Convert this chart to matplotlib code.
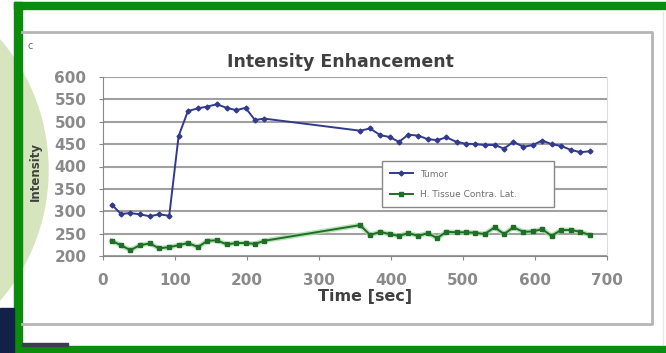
import matplotlib.pyplot as plt
import matplotlib.patches as mpatches

# time points (sec)
t_early = [12, 25, 38, 51, 65, 78, 92, 105, 118, 132, 145, 158, 172, 185, 198, 211, 224]
t_late = [357, 371, 385, 398, 411, 424, 438, 451, 464, 477, 491, 504, 517,
          530, 544, 557, 570, 584, 597, 610, 623, 636, 650, 663, 676]

# Tumor intensity
tumor_early = [315, 294, 296, 293, 289, 293, 290, 468, 524, 530, 534, 539, 531,
               526, 531, 504, 507]
tumor_late = [480, 485, 470, 466, 455, 471, 469, 461, 459, 465, 455, 451, 450,
              448, 448, 440, 455, 444, 448, 458, 450, 446, 437, 432, 434]

# healthy tissue, contralateral side
tissue_early = [234, 224, 213, 224, 228, 217, 220, 224, 229, 220, 234, 235, 226,
                229, 229, 227, 234]
tissue_late = [269, 247, 254, 249, 245, 251, 245, 251, 240, 254, 253, 253, 252,
               249, 264, 249, 264, 254, 255, 260, 245, 258, 258, 254, 247]

t = t_early + t_late
tumor = tumor_early + tumor_late
tissue = tissue_early + tissue_late

W, H = 666, 353
fig = plt.figure(figsize=(W / 100, H / 100), dpi=100)

# slide background drawn in pixel coords
bg = fig.add_axes([0, 0, 1, 1], zorder=0)
bg.set_xlim(0, W)
bg.set_ylim(H, 0)
bg.axis('off')
bg.add_patch(mpatches.Rectangle((0, 0), W, H, color='white'))
bg.add_patch(mpatches.Circle((-152, 170), 200, color='#d7e5bf'))
green = '#0b8c0b'
bg.add_patch(mpatches.Rectangle((14, 2), 8, H - 2, color=green))
bg.add_patch(mpatches.Rectangle((14, 2), W - 14, 7, color=green))
bg.add_patch(mpatches.Rectangle((22, 346), W - 22, 7, color=green))
bg.add_patch(mpatches.Rectangle((0, 308), 14, 45, color='#122246'))
bg.add_patch(mpatches.Rectangle((22, 343), 46, 3, color='#3a4050'))
# chart frame
bg.plot([22, 652, 652, 22], [32, 32, 324, 324], color='#b5b5b5', lw=2)
bg.plot([663, 663], [12, 344], color='#e6e6e6', lw=1)
bg.text(27, 46, 'c', fontsize=7, color='#666666', va='center')

x0, x1, y0, y1 = 103, 607, 77, 256
ax = fig.add_axes([x0 / W, 1 - y1 / H, (x1 - x0) / W, (y1 - y0) / H], zorder=1)
ax.set_facecolor('none')

ax.plot(t, tumor, color='#323a8e', lw=1.4, marker='D', ms=2.5, label='Tumor')
ax.plot(t, tissue, color='#a8dca8', lw=3.5, alpha=0.8, zorder=1.9)
ax.plot(t, tissue, color='#1f6e27', lw=1.4, marker='s', ms=3.0,
        label='H. Tissue Contra. Lat.')

ax.set_xlim(0, 700)
ax.set_ylim(200, 600)
ax.set_xticks(range(0, 701, 100))
ax.set_yticks(range(200, 601, 50))
ax.grid(axis='y', color='#a0a0a0', lw=1.5)
ax.set_axisbelow(True)
ax.spines['top'].set_visible(False)
ax.spines['right'].set_color('#dddddd')
ax.spines['left'].set_color('#888888')
ax.spines['bottom'].set_color('#888888')
ax.tick_params(colors='#888888', labelcolor='#8a8a8a', labelsize=11, length=3)
ax.tick_params(axis='x', pad=9)
ax.tick_params(axis='y', pad=9)
for lbl in ax.get_xticklabels() + ax.get_yticklabels():
    lbl.set_fontweight('bold')

fig.text(340 / W, 1 - 62 / H, 'Intensity Enhancement', ha='center', va='center',
         fontsize=12.5, fontweight='bold', color='#404040')
fig.text(365 / W, 1 - 297 / H, 'Time [sec]', ha='center', va='center',
         fontsize=11.5, fontweight='bold', color='#404040')
fig.text(35 / W, 1 - 172 / H, 'Intensity', ha='center', va='center', rotation=90,
         fontsize=8.5, fontweight='bold', color='#404040')

leg = ax.legend(loc='upper left', bbox_to_anchor=(382 / W, 1 - 165 / H, 172 / W, 0.01),
                bbox_transform=fig.transFigure, mode='expand', fontsize=6.5,
                frameon=True, fancybox=False, edgecolor='#888888', framealpha=1,
                handlelength=2.5, labelspacing=1.3, borderpad=0.9, borderaxespad=0)
for txt in leg.get_texts():
    txt.set_color('#707070')

fig.savefig('out.png', dpi=100)
